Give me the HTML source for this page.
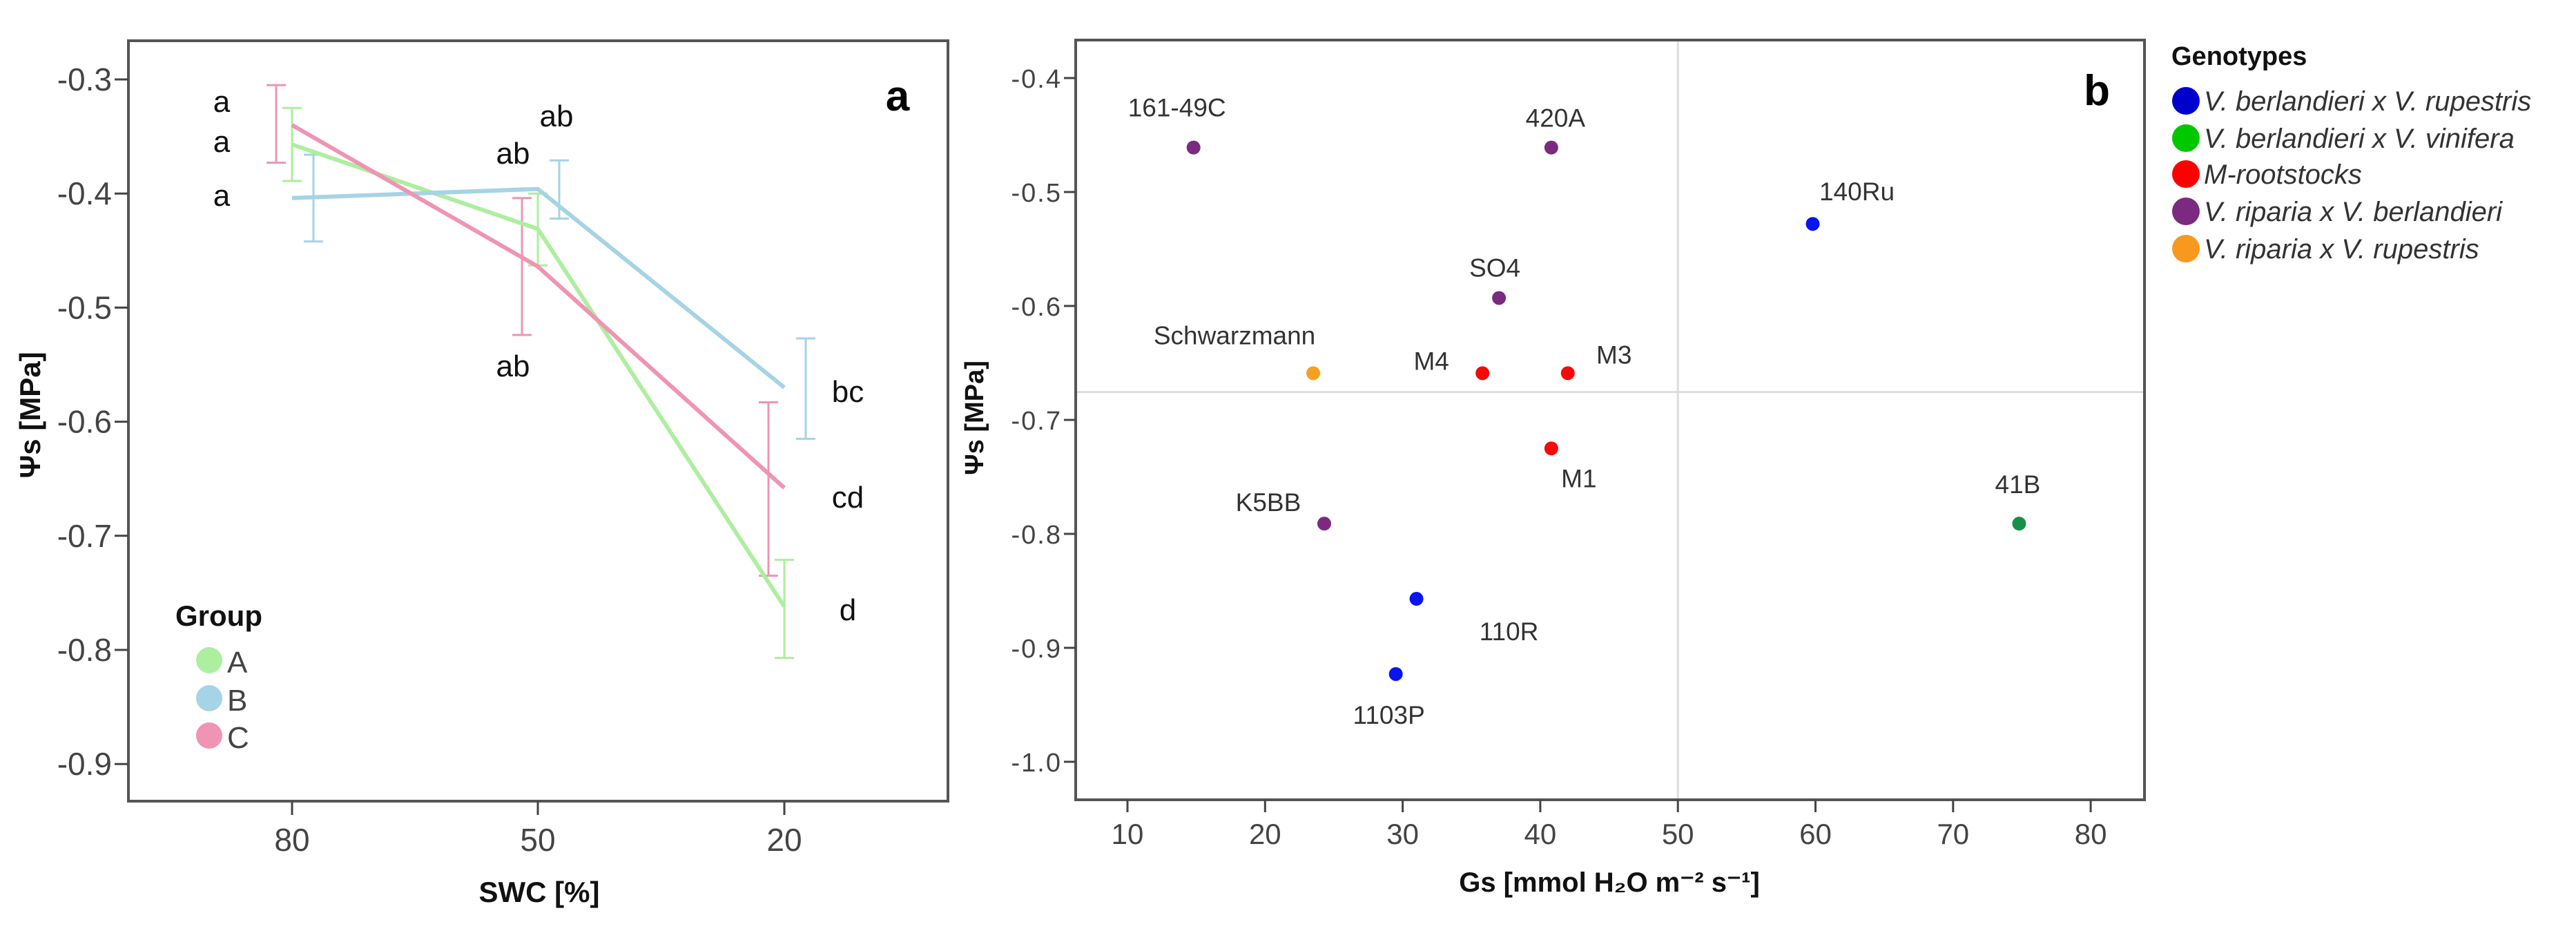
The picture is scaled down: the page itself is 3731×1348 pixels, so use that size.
<!DOCTYPE html>
<html><head><meta charset="utf-8">
<style>
html,body{margin:0;padding:0;background:#fff;}
svg{display:block;}
text{font-family:"Liberation Sans",Arial,sans-serif;}
</style></head>
<body>
<svg id="fig" width="3731" height="1348" viewBox="0 0 3731 1348" xmlns="http://www.w3.org/2000/svg">
  <g id="panelA"></g>
  <g id="panelB"></g>
</svg>
<script>
// ---------- Panel a data ----------
const swcCategories = ["80", "50", "20"];
const groupNames = ["A", "B", "C"];
const groupA = [-0.357, -0.431, -0.762];
const groupB = [-0.404, -0.396, -0.570];
const groupC = [-0.340, -0.464, -0.658];
const errA_hi = [-0.325, -0.400, -0.721];
const errA_lo = [-0.389, -0.463, -0.807];
const errB_hi = [-0.366, -0.371, -0.527];
const errB_lo = [-0.442, -0.422, -0.615];
const errC_hi = [-0.305, -0.404, -0.583];
const errC_lo = [-0.373, -0.524, -0.735];
const yTicksA = [-0.3, -0.4, -0.5, -0.6, -0.7, -0.8, -0.9];
const yTickLabelsA = ["-0.3", "-0.4", "-0.5", "-0.6", "-0.7", "-0.8", "-0.9"];
const sigLetters = ["a", "a", "a", "ab", "ab", "ab", "bc", "cd", "d"];

// ---------- Panel b data ----------
const genoNames = ["161-49C","420A","140Ru","SO4","Schwarzmann","M4","M3","M1","K5BB","41B","110R","1103P"];
const gsValues = [14.8, 40.8, 59.8, 37.0, 23.5, 35.8, 42.0, 40.8, 24.3, 74.8, 31.0, 29.5];
const psiValues = [-0.461, -0.461, -0.528, -0.593, -0.659, -0.659, -0.659, -0.725, -0.791, -0.791, -0.857, -0.923];
const genoGroup = [3, 3, 0, 3, 4, 2, 2, 2, 3, 1, 0, 0];
const legendLabels = ["V. berlandieri x V. rupestris","V. berlandieri x V. vinifera","M-rootstocks","V. riparia x V. berlandieri","V. riparia x V. rupestris"];
const xTicksB = [10, 20, 30, 40, 50, 60, 70, 80];
const yTicksB = [-0.4, -0.5, -0.6, -0.7, -0.8, -0.9, -1.0];
const yTickLabelsB = ["-0.4", "-0.5", "-0.6", "-0.7", "-0.8", "-0.9", "-1.0"];
const refLineX = 50;
const refLineY = -0.6755;

const NS = "http://www.w3.org/2000/svg";
function mk(parent, tag, attrs, txt) {
  const e = document.createElementNS(NS, tag);
  for (const k in attrs) e.setAttribute(k, attrs[k]);
  if (txt !== undefined) e.textContent = txt;
  parent.appendChild(e);
  return e;
}

// ===== Panel A =====
(function () {
  const g = document.getElementById('panelA');
  const L = 186, R = 1373, T = 59, B = 1160;
  const catX = [423, 779, 1136];
  const xA = i => catX[i];
  const yA = v => 115 + (-0.3 - v) / 0.1 * 165.2;
  const frame = mk(g, 'rect', {x: L, y: T, width: R - L, height: B - T, fill: 'none', stroke: '#555', 'stroke-width': 4});
  
  
  yTicksA.forEach((v, i) => {
    const t = mk(g, 'line', {x1: L - 20, x2: L, y1: yA(v), y2: yA(v), stroke: '#444', 'stroke-width': 3});
    
    
    const lb = mk(g, 'text', {x: L - 24, y: yA(v) + 16, 'text-anchor': 'end', 'font-size': 46, fill: '#444'}, yTickLabelsA[i]);
    
    
  });
  swcCategories.forEach((c, i) => {
    const t = mk(g, 'line', {x1: xA(i), x2: xA(i), y1: B, y2: B + 20, stroke: '#444', 'stroke-width': 3});
    
    
    const lb = mk(g, 'text', {x: xA(i), y: 1232, 'text-anchor': 'middle', 'font-size': 46, fill: '#444'}, c);
    
    
  });
  const xt = mk(g, 'text', {x: 781, y: 1306, 'text-anchor': 'middle', 'font-size': 42, 'font-weight': 'bold', fill: '#111'}, 'SWC [%]');
  
  
  const yt = mk(g, 'text', {x: 0, y: 0, transform: 'translate(58,601) rotate(-90)', 'text-anchor': 'middle', 'font-size': 42, 'font-weight': 'bold', fill: '#111'}, 'Ψs [MPa]');
  
  
  const pl = mk(g, 'text', {x: 1300, y: 160, 'text-anchor': 'middle', 'font-size': 62, 'font-weight': 'bold', fill: '#000'}, 'a');
  
  

  const series = [
    {vals: groupA, hi: errA_hi, lo: errA_lo, color: '#aeeea0', off: 0, name: 'A'},
    {vals: groupB, hi: errB_hi, lo: errB_lo, color: '#a6d3e6', off: 31, name: 'B'},
    {vals: groupC, hi: errC_hi, lo: errC_lo, color: '#ef94b2', off: -23, name: 'C'}
  ];
  series.forEach(s => {
    s.vals.forEach((v, i) => {
      const x = xA(i) + s.off;
      const e = mk(g, 'path', {d: `M${x},${yA(s.hi[i])}V${yA(s.lo[i])}M${x - 14},${yA(s.hi[i])}H${x + 14}M${x - 14},${yA(s.lo[i])}H${x + 14}`, stroke: s.color, 'stroke-width': 3, fill: 'none'});
      
      
    });
  });
  series.forEach(s => {
    const pts = s.vals.map((v, i) => `${xA(i)},${yA(v)}`).join(' ');
    const p = mk(g, 'polyline', {points: pts, fill: 'none', stroke: s.color, 'stroke-width': 6, 'stroke-linejoin': 'round'});
    
    
  });
  const letterPos = [[321,147],[321,205],[321,283],[806,168],[743,222],[743,530],[1228,567],[1228,720],[1228,883]];
  sigLetters.forEach((l, i) => {
    const t = mk(g, 'text', {x: letterPos[i][0], y: letterPos[i][1] + 15, 'text-anchor': 'middle', 'font-size': 44, fill: '#111'}, l);
    
    
  });
  const lt = mk(g, 'text', {x: 317, y: 906, 'text-anchor': 'middle', 'font-size': 42, 'font-weight': 'bold', fill: '#111'}, 'Group');
  
  
  const ly = [956, 1011, 1065];
  series.forEach((s, i) => {
    const c = mk(g, 'circle', {cx: 303, cy: ly[i], r: 19, fill: s.color});
    
    
    const t = mk(g, 'text', {x: 329, y: ly[i] + 18, 'font-size': 44, fill: '#444'}, groupNames[i]);
    
    
  });
})();

// ===== Panel B =====
(function () {
  const g = document.getElementById('panelB');
  const L = 1558, R = 3106, T = 58, B = 1158;
  const xB = v => 1633 + (v - 10) / 10 * 199.3;
  const yB = v => 113 + (-0.4 - v) / 0.1 * 165;
  const colors = ['#0a14f0', '#17914a', '#f50a0a', '#7b2a80', '#f5a020'];
  const legColors = ['#0000cc', '#00c800', '#ff0000', '#7b2a80', '#f7991f'];
  const gx = mk(g, 'line', {x1: xB(refLineX), x2: xB(refLineX), y1: T, y2: B, stroke: '#ddd', 'stroke-width': 3});
  
  
  const gy = mk(g, 'line', {x1: L, x2: R, y1: yB(refLineY), y2: yB(refLineY), stroke: '#ddd', 'stroke-width': 3});
  
  
  const frame = mk(g, 'rect', {x: L, y: T, width: R - L, height: B - T, fill: 'none', stroke: '#555', 'stroke-width': 4});
  
  
  yTicksB.forEach((v, i) => {
    const t = mk(g, 'line', {x1: L - 17, x2: L, y1: yB(v), y2: yB(v), stroke: '#444', 'stroke-width': 3});
    
    
    const lb = mk(g, 'text', {x: L - 20, y: yB(v) + 14, 'text-anchor': 'end', 'font-size': 38, fill: '#444', 'letter-spacing': 2}, yTickLabelsB[i]);
    
    
  });
  xTicksB.forEach(v => {
    const t = mk(g, 'line', {x1: xB(v), x2: xB(v), y1: B, y2: B + 18, stroke: '#444', 'stroke-width': 3});
    
    
    const lb = mk(g, 'text', {x: xB(v), y: 1222, 'text-anchor': 'middle', 'font-size': 42, fill: '#444'}, String(v));
    
    
  });
  const xt = mk(g, 'text', {x: 2331, y: 1291, 'text-anchor': 'middle', 'font-size': 40, 'font-weight': 'bold', fill: '#111'}, 'Gs [mmol H₂O m⁻² s⁻¹]');
  
  
  const yt = mk(g, 'text', {x: 0, y: 0, transform: 'translate(1424,605) rotate(-90)', 'text-anchor': 'middle', 'font-size': 38, 'font-weight': 'bold', fill: '#111'}, 'Ψs [MPa]');
  
  
  const pl = mk(g, 'text', {x: 3037, y: 152, 'text-anchor': 'middle', 'font-size': 62, 'font-weight': 'bold', fill: '#000'}, 'b');
  
  

  const labelOff = [[-24,-58],[6,-43],[64,-47],[-6,-44],[-114,-55],[-74,-18],[67,-27],[40,43],[-81,-31],[-2,-57],[134,47],[-10,59]];
  gsValues.forEach((gv, i) => {
    const cx = xB(gv), cy = yB(psiValues[i]);
    const c = mk(g, 'circle', {cx: cx, cy: cy, r: 10, fill: colors[genoGroup[i]]});
    
    
    const t = mk(g, 'text', {x: cx + labelOff[i][0], y: cy + labelOff[i][1] + 13, 'text-anchor': 'middle', 'font-size': 37, fill: '#333'}, genoNames[i]);
    
    
  });

  const lt = mk(g, 'text', {x: 3145, y: 94, 'font-size': 38, 'font-weight': 'bold', fill: '#111'}, 'Genotypes');
  
  
  const ly = [146, 200, 252, 306, 360];
  legendLabels.forEach((l, i) => {
    const c = mk(g, 'circle', {cx: 3166, cy: ly[i], r: 20, fill: legColors[i]});
    
    
    const t = mk(g, 'text', {x: 3192, y: ly[i] + 14, 'font-size': 40, 'font-style': 'italic', fill: '#333'}, l);
    
    
  });
})();
</script>
</body></html>
